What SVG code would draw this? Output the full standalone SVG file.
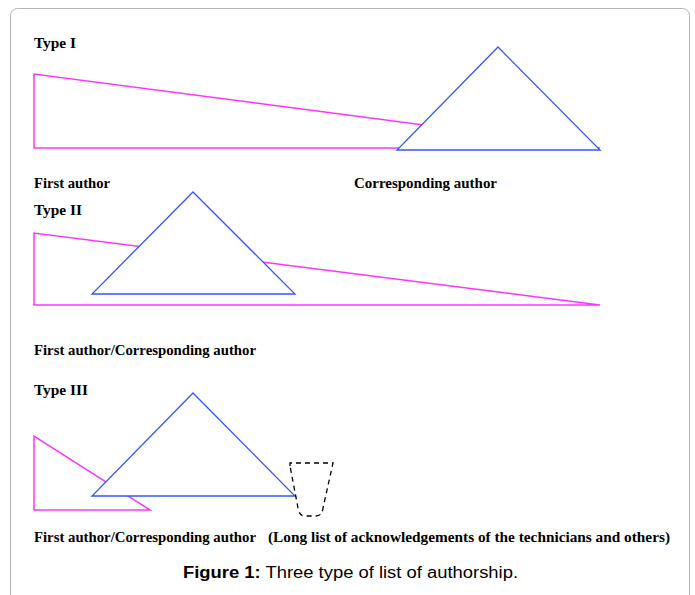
<svg xmlns="http://www.w3.org/2000/svg" width="695" height="595" viewBox="0 0 695 595">
<style>
.frame{fill:#fff;stroke:#b4b4b4;stroke-width:1}
.mag{fill:none;stroke:#ff33ff;stroke-width:1.5}
.blue{fill:#fff;stroke:#3355ff;stroke-width:1.3;stroke-linejoin:miter}
.lbl{font-family:"Liberation Serif","Times New Roman",serif;font-weight:bold;font-size:14px;fill:#000}
.cap{font-family:"Liberation Sans",Arial,sans-serif;font-size:16px;fill:#000}
.dash{fill:none;stroke:#000;stroke-width:1.3;stroke-dasharray:5 4}
</style>
<rect class="frame" x="10.5" y="8.5" width="679" height="600" rx="7"/>

<g id="type1">
<text class="lbl" x="34" y="48" textLength="42" lengthAdjust="spacingAndGlyphs">Type I</text>
<polygon class="mag" points="34,74 34,148 600,148"/>
<polygon class="blue" points="498,47 397,150 600,150"/>
<text class="lbl" x="34" y="188" textLength="76" lengthAdjust="spacingAndGlyphs">First author</text>
<text class="lbl" x="354" y="188" textLength="143" lengthAdjust="spacingAndGlyphs">Corresponding author</text>
</g>

<g id="type2">
<text class="lbl" x="34" y="215" textLength="48" lengthAdjust="spacingAndGlyphs">Type II</text>
<polygon class="mag" points="34,233 34,305 600,305"/>
<polygon class="blue" points="193,192 92,294 295,294"/>
<text class="lbl" x="34" y="355" textLength="222" lengthAdjust="spacingAndGlyphs">First author/Corresponding author</text>
</g>

<g id="type3">
<text class="lbl" x="34" y="395" textLength="54" lengthAdjust="spacingAndGlyphs">Type III</text>
<polygon class="mag" points="34,436 34,510 150,510"/>
<polygon class="blue" points="193,393 92,496 295,496"/>
<path class="dash" d="M290,466 L290,463 L333,463 L331,472 L323,508 Q322,516 316,516 L305,516 Q299,516 298,508 Z"/>
<text class="lbl" x="34" y="542" textLength="222" lengthAdjust="spacingAndGlyphs">First author/Corresponding author</text>
<text class="lbl" x="268" y="542" textLength="402" lengthAdjust="spacingAndGlyphs">(Long list of acknowledgements of the technicians and others)</text>
</g>

<g id="caption">
<text class="cap" x="183" y="578" textLength="335" lengthAdjust="spacingAndGlyphs"><tspan font-weight="bold">Figure 1:</tspan> Three type of list of authorship.</text>
</g>
</svg>
